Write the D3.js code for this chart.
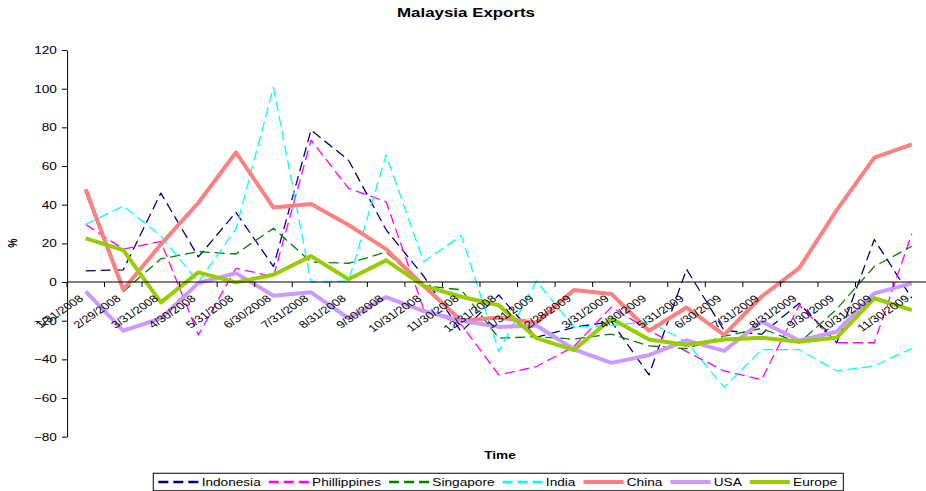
<!DOCTYPE html>
<meta charset="utf-8">
<head>
<script src="https://d3js.org/d3.v7.min.js"></script>
<style>
  body { margin: 0; background: #fff; }
  text { font-family: Arial, "Liberation Sans", sans-serif; fill: #000; }
</style>
</head>
<body>
<div id="chart"></div>

<script>
// month-end dates on the category axis
var dates = ["1/31/2008", "2/29/2008", "3/31/2008", "4/30/2008", "5/31/2008", "6/30/2008",
  "7/31/2008", "8/31/2008", "9/30/2008", "10/31/2008", "11/30/2008", "12/31/2008",
  "1/31/2009", "2/28/2009", "3/31/2009", "4/30/2009", "5/31/2009", "6/30/2009",
  "7/31/2009", "8/31/2009", "9/30/2009", "10/31/2009", "11/30/2009"];

// export growth, %
var indonesia   = [5.8, 6.3, 46, 13, 36, 8, 78.6, 63, 27, 3, -25.7, -6.7, -28.6, -23.4, -20.5, -48, 6.6, -25, -27, -11, -31.4, 22, -8.4];
var philippines = [29.8, 17, 21, -27.4, 7.1, 2.8, 73.4, 48.4, 41.5, -14, -22, -48, -43.8, -33.4, -13, -24.8, -36, -46, -50.5, -12, -31.4, -31.4, 25];
var singapore   = [46, -5, 12, 15.7, 14.5, 27.8, 10.3, 9.7, 15.5, -2, -4, -29, -28.3, -29.5, -26.9, -33, -34.5, -28, -24, -31.5, -14, 8, 18.5];
var india       = [29.8, 39.3, 23.8, 0, 27.4, 100.7, 0, 0.5, 65.7, 10.5, 24, -36, 0.5, -23.4, -22.5, -20.5, -31, -54.5, -35, -35, -46, -43.4, -34.3];
var china       = [48, -4, 19.5, 41, 67, 38.5, 40.3, 29.5, 17, -2, -20, -18.3, -21, -4.1, -6.2, -25.2, -13.2, -27.3, -7.5, 7.2, 37.2, 64.3, 71.2];
var usa         = [-4.8, -25.2, -18.8, -0.5, 4.6, -7.1, -5.3, -18.8, -7.8, -15, -20, -23.2, -22.5, -34.8, -41.8, -37.8, -30.2, -35.6, -20.4, -30.2, -25.7, -5.9, -0.7];
var europe      = [22.6, 16.5, -10.5, 5, -0.2, 3.8, 13.4, 1.4, 11.2, -2, -7.6, -12, -29, -35.2, -19, -29.7, -32.6, -29.7, -28.8, -30.9, -28.7, -8.4, -14.5];

var yTicks = [-80, -60, -40, -20, 0, 20, 40, 60, 80, 100, 120];

var series = [
  { name: "Indonesia",   values: indonesia,   color: "#000080", dash: "10,5", width: 1.3 },
  { name: "Phillippines", values: philippines, color: "#FF00FF", dash: "10,5", width: 1.3 },
  { name: "Singapore",   values: singapore,   color: "#008000", dash: "10,5", width: 1.3 },
  { name: "India",       values: india,       color: "#00FFFF", dash: "10,5", width: 1.3 },
  { name: "China",       values: china,       color: "#FF8080", dash: null,  width: 4 },
  { name: "USA",         values: usa,         color: "#CC99FF", dash: null,  width: 4 },
  { name: "Europe",      values: europe,      color: "#99CC00", dash: null,  width: 4 }
];

// the picture is horizontally stretched, so draw in a narrower box and stretch it
var W = 926, H = 491, S = 1.3, vbW = W / S;

var svg = d3.select("#chart").append("svg")
  .attr("width", W)
  .attr("height", H)
  .attr("viewBox", "0 0 " + vbW + " " + H)
  .attr("preserveAspectRatio", "none");

var left = 51.5, band = 28.885;

var x = d3.scaleBand()
  .domain(dates)
  .range([left, left + dates.length * band]);
var cx = function (d) { return x(d) + x.bandwidth() / 2; };

var y = d3.scaleLinear()
  .domain([-80, 120])
  .range([436.7, 50]);

// title and axis titles
svg.append("text")
  .attr("x", 358.5).attr("y", 17)
  .attr("text-anchor", "middle")
  .attr("font-size", 13).attr("font-weight", "bold")
  .text("Malaysia Exports");

svg.append("text")
  .attr("transform", "translate(13,243) rotate(-90)")
  .attr("text-anchor", "middle")
  .attr("font-size", 10.5).attr("font-weight", "bold")
  .text("%");

svg.append("text")
  .attr("x", 384.6).attr("y", 459)
  .attr("text-anchor", "middle")
  .attr("font-size", 10.5).attr("font-weight", "bold")
  .text("Time");

// y axis
var gy = svg.append("g")
  .attr("transform", "translate(" + left + ",0)")
  .call(d3.axisLeft(y).tickValues(yTicks).tickSize(3.85).tickSizeOuter(0).tickPadding(3.9));
gy.selectAll("text").attr("font-size", 10.5).attr("font-family", null);
gy.selectAll("path, line").attr("stroke", "#000").attr("vector-effect", "non-scaling-stroke");

// x axis along zero
var gx = svg.append("g");
gx.append("line")
  .attr("x1", left).attr("x2", left + dates.length * band)
  .attr("y1", y(0)).attr("y2", y(0))
  .attr("stroke", "#000")
  .attr("vector-effect", "non-scaling-stroke");
gx.selectAll("line.tick")
  .data(d3.range(dates.length + 1))
  .join("line")
  .attr("class", "tick")
  .attr("x1", function (k) { return left + k * band; })
  .attr("x2", function (k) { return left + k * band; })
  .attr("y1", y(0)).attr("y2", y(0) + 5)
  .attr("stroke", "#000")
  .attr("vector-effect", "non-scaling-stroke");

// series lines
var line = d3.line()
  .x(function (v, i) { return cx(dates[i]); })
  .y(function (v) { return y(v); });

svg.append("g").selectAll("path")
  .data(series)
  .join("path")
  .attr("d", function (s) { return line(s.values); })
  .attr("fill", "none")
  .attr("stroke", function (s) { return s.color; })
  .attr("stroke-width", function (s) { return s.width; })
  .attr("stroke-dasharray", function (s) { return s.dash; })
  .attr("stroke-linejoin", "round")
  .attr("vector-effect", "non-scaling-stroke");

// category labels, drawn over the lines like the original
gx.raise();
gx.selectAll("text")
  .data(dates)
  .join("text")
  .attr("transform", function (d) { return "translate(" + (cx(d) - 3.5) + "," + (y(0) + 15) + ") rotate(-41)"; })
  .attr("text-anchor", "end")
  .attr("dy", "0.35em")
  .attr("font-size", 10)
  .text(function (d) { return d; });

// legend
var lg = svg.append("g");
lg.append("rect")
  .attr("x", 117.9).attr("y", 473.3)
  .attr("width", 648.7 - 117.9).attr("height", 17.4)
  .attr("fill", "#fff").attr("stroke", "#000")
  .attr("vector-effect", "non-scaling-stroke");

var pos = 121.8, ly = 482;
series.forEach(function (s) {
  lg.append("line")
    .attr("x1", pos).attr("x2", pos + 30.8)
    .attr("y1", ly).attr("y2", ly)
    .attr("stroke", s.color)
    .attr("stroke-width", s.dash ? 2.5 : 4)
    .attr("stroke-dasharray", s.dash ? "10,5" : null)
    .attr("vector-effect", "non-scaling-stroke");
  var t = lg.append("text")
    .attr("x", pos + 33.3).attr("y", ly)
    .attr("dy", "0.36em")
    .attr("font-size", 10.5)
    .text(s.name);
  pos += 33.3 + t.node().getComputedTextLength() + 6.2;
});
</script>
</body>
